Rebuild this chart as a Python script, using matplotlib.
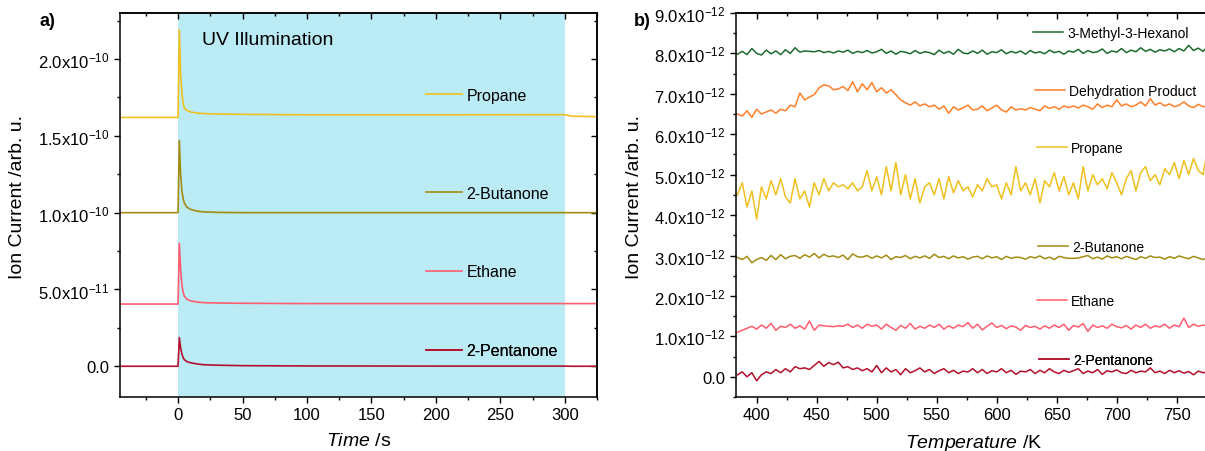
import numpy as np
from matplotlib import pyplot as plt
from matplotlib.ticker import FuncFormatter, MultipleLocator

plt.rcParams['font.family'] = ['Liberation Sans', 'DejaVu Sans']
plt.rcParams['mathtext.fontset'] = 'custom'
plt.rcParams['mathtext.rm'] = 'Liberation Sans'
plt.rcParams['mathtext.it'] = 'Liberation Sans:italic'

# ---- panel a: ion current vs time (UV on from 0 to 300 s)
time_s = [-45, 0, 1, 2, 3, 4, 5, 7, 10, 15, 20, 30, 50, 100, 200, 300, 305, 325]
propane_a = [1.62, 1.62, 2.19, 1.90, 1.78, 1.71, 1.68, 1.665, 1.655, 1.648, 1.645,
             1.642, 1.640, 1.637, 1.637, 1.638, 1.628, 1.625]
butanone_a = [1.00, 1.00, 1.47, 1.25, 1.14, 1.09, 1.06, 1.035, 1.02, 1.01, 1.005,
              1.002, 1.00, 1.00, 1.00, 1.00, 1.00, 1.00]
ethane_a = [0.405, 0.405, 0.80, 0.63, 0.53, 0.48, 0.455, 0.435, 0.425, 0.418, 0.414,
            0.412, 0.41, 0.408, 0.408, 0.408, 0.408, 0.408]
pentanone_a = [0.0, 0.0, 0.187, 0.12, 0.08, 0.055, 0.042, 0.03, 0.022, 0.015, 0.01,
               0.007, 0.004, 0.002, 0.001, 0.001, 0.0, 0.0]
scale_a = 1e-10

# ---- panel b: ion current vs temperature (values in 1e-12)
temp_k = [384, 388, 392, 396, 400, 404, 408, 412, 416, 420,
          424, 428, 432, 436, 440, 444, 448, 452, 456, 460,
          464, 468, 472, 476, 480, 484, 488, 492, 496, 500,
          504, 508, 512, 516, 520, 524, 528, 532, 536, 540,
          544, 548, 552, 556, 560, 564, 568, 572, 576, 580,
          584, 588, 592, 596, 600, 604, 608, 612, 616, 620,
          624, 628, 632, 636, 640, 644, 648, 652, 656, 660,
          664, 668, 672, 676, 680, 684, 688, 692, 696, 700,
          704, 708, 712, 716, 720, 724, 728, 732, 736, 740,
          744, 748, 752, 756, 760, 764, 768, 772, 776]

hexanol_b = [7.98, 8.05, 7.97, 8.12, 8.00, 7.96, 8.08, 7.99, 8.06, 7.97,
             8.09, 8.00, 8.14, 8.03, 8.06, 8.05, 8.04, 8.07, 8.02, 8.05,
             8.01, 8.06, 8.03, 8.08, 8.00, 8.05, 8.02, 8.07, 8.01, 8.04,
             8.10, 8.00, 8.06, 7.98, 8.05, 8.03, 7.99, 8.07, 8.00, 8.04,
             8.02, 7.97, 8.08, 8.00, 8.05, 7.98, 8.10, 8.01, 7.99, 8.06,
             8.00, 8.08, 7.98, 8.04, 8.02, 8.09, 7.99, 8.05, 8.01, 8.06,
             7.98, 8.07, 8.01, 8.04, 7.99, 8.08, 8.02, 8.05, 7.98, 8.06,
             8.03, 8.10, 8.00, 8.07, 8.02, 8.04, 8.11, 8.00, 8.06, 8.03,
             8.12, 8.02, 8.08, 8.04, 8.14, 8.05, 8.10, 8.03, 8.09, 8.06,
             8.11, 8.04, 8.12, 8.06, 8.20, 8.07, 8.13, 8.05, 8.18]
dehydration_b = [6.50, 6.45, 6.58, 6.42, 6.62, 6.50, 6.55, 6.60, 6.52, 6.62,
                 6.58, 6.72, 6.68, 7.02, 6.85, 6.92, 6.98, 7.15, 7.22, 7.20,
                 7.10, 7.12, 7.18, 7.08, 7.30, 7.05, 7.25, 7.10, 7.28, 7.05,
                 7.15, 7.02, 7.10, 6.98, 6.85, 6.78, 6.72, 6.80, 6.70, 6.75,
                 6.68, 6.72, 6.62, 6.70, 6.52, 6.68, 6.60, 6.65, 6.72, 6.60,
                 6.62, 6.70, 6.58, 6.65, 6.72, 6.60, 6.55, 6.68, 6.60, 6.63,
                 6.60, 6.66, 6.62, 6.58, 6.70, 6.64, 6.68, 6.62, 6.70, 6.66,
                 6.70, 6.65, 6.72, 6.68, 6.62, 6.75, 6.66, 6.72, 6.68, 6.85,
                 6.70, 6.75, 6.68, 6.72, 6.80, 6.70, 6.88, 6.72, 6.78, 6.70,
                 6.75, 6.68, 6.72, 6.80, 6.70, 6.66, 6.74, 6.68, 6.70]
propane_b = [4.50, 4.80, 4.20, 4.60, 3.90, 4.70, 4.40, 4.85, 4.50, 4.90,
             4.45, 4.30, 4.90, 4.40, 4.60, 4.20, 4.80, 4.50, 4.90, 4.60,
             4.80, 4.70, 4.75, 4.65, 4.80, 4.60, 4.70, 5.10, 4.60, 4.95,
             4.50, 5.20, 4.60, 5.30, 4.50, 5.00, 4.40, 4.90, 4.30, 4.70,
             4.80, 4.50, 4.90, 4.40, 4.95, 4.55, 4.85, 4.60, 4.70, 4.45,
             4.75, 4.60, 4.90, 4.70, 4.75, 4.40, 4.80, 4.50, 5.20, 4.60,
             4.80, 4.50, 4.90, 4.30, 4.85, 4.70, 5.05, 4.60, 4.95, 4.50,
             4.80, 4.40, 5.20, 4.60, 5.00, 4.75, 4.90, 4.65, 5.05, 4.80,
             4.50, 4.90, 5.10, 4.60, 5.05, 5.20, 4.85, 5.00, 4.75, 5.15,
             5.00, 5.30, 4.90, 5.35, 5.00, 5.40, 5.10, 5.00, 5.70]
butanone_b = [2.95, 2.90, 2.98, 2.82, 2.90, 2.95, 2.88, 3.00, 2.90, 3.02,
              2.92, 2.98, 3.00, 2.93, 3.02, 2.96, 3.05, 2.94, 3.03, 2.97,
              2.99, 2.95, 3.01, 2.90, 3.04, 2.97, 2.96, 3.00, 2.93, 2.99,
              2.94, 3.01, 2.90, 2.97, 2.95, 3.00, 2.92, 2.98, 2.94, 2.99,
              2.93, 3.03, 2.95, 2.98, 2.92, 2.99, 2.94, 2.97, 2.91, 2.96,
              2.98, 2.92, 2.99, 2.94, 2.97, 2.90, 2.98, 2.93, 2.96, 2.95,
              2.91, 2.97, 2.94, 2.99, 2.92, 2.96, 2.90, 2.98, 2.95, 2.93,
              2.93, 2.94, 2.97, 3.00, 2.92, 2.96, 2.91, 2.99, 2.94, 2.97,
              2.92, 2.98, 2.94, 2.90, 2.97, 2.93, 2.99, 2.95, 2.96, 2.91,
              2.97, 2.93, 2.99, 2.95, 2.92, 2.98, 2.94, 2.90, 2.95]
ethane_b = [1.10, 1.15, 1.20, 1.25, 1.18, 1.28, 1.20, 1.32, 1.15, 1.25,
            1.22, 1.30, 1.20, 1.26, 1.18, 1.38, 1.15, 1.28, 1.26, 1.25,
            1.24, 1.26, 1.25, 1.30, 1.22, 1.28, 1.20, 1.30, 1.25, 1.28,
            1.18, 1.30, 1.22, 1.15, 1.27, 1.20, 1.32, 1.18, 1.25, 1.20,
            1.28, 1.22, 1.30, 1.18, 1.26, 1.20, 1.28, 1.24, 1.34, 1.20,
            1.30, 1.16, 1.25, 1.33, 1.22, 1.27, 1.19, 1.26, 1.23, 1.15,
            1.27, 1.22, 1.25, 1.18, 1.26, 1.20, 1.28, 1.22, 1.30, 1.15,
            1.27, 1.23, 1.32, 1.12, 1.28, 1.22, 1.26, 1.20, 1.30, 1.24,
            1.21, 1.27, 1.18, 1.28, 1.22, 1.30, 1.20, 1.26, 1.23, 1.30,
            1.20, 1.28, 1.24, 1.45, 1.22, 1.30, 1.25, 1.28, 1.25]
pentanone_b = [0.05, 0.12, 0.00, 0.10, -0.10, 0.05, 0.12, 0.08, 0.18, 0.10,
               0.20, 0.12, 0.25, 0.20, 0.22, 0.18, 0.28, 0.38, 0.26, 0.35,
               0.30, 0.36, 0.22, 0.25, 0.18, 0.22, 0.15, 0.20, 0.12, 0.28,
               0.10, 0.22, 0.12, 0.18, 0.05, 0.20, 0.10, 0.15, 0.22, 0.12,
               0.18, 0.08, 0.15, 0.20, 0.10, 0.16, 0.08, 0.14, 0.12, 0.20,
               0.10, 0.18, 0.08, 0.15, 0.12, 0.20, 0.10, 0.16, 0.06, 0.14,
               0.12, 0.18, 0.08, 0.16, 0.10, 0.20, 0.12, 0.08, 0.16, 0.11,
               0.15, 0.20, 0.08, 0.14, 0.10, 0.18, 0.06, 0.15, 0.12, 0.17,
               0.10, 0.08, 0.16, 0.10, 0.14, 0.12, 0.22, 0.10, 0.14, 0.08,
               0.16, 0.10, 0.15, 0.09, 0.13, 0.05, 0.14, 0.10, 0.12]
scale_b = 1e-12

c_propane = '#EFC01E'
c_butanone = '#A38B12'
c_ethane = '#FF5C70'
c_pentanone = '#B4102C'
c_hexanol = '#1D6B2F'
c_dehyd = '#FF7F2A'
uv_color = '#BBEBF5'


def sci_label(v, pos):
    if abs(v) < 1e-20:
        return '0.0'
    e = int(np.floor(np.log10(abs(v)) + 1e-9))
    m = v / 10 ** e
    return f'{m:.1f}x10$^{{{e}}}$'


def style_axes(ax, xmajor, xminor, ymajor, yminor):
    for s in ax.spines.values():
        s.set_linewidth(1.1)
    ax.xaxis.set_major_locator(MultipleLocator(xmajor))
    ax.xaxis.set_minor_locator(MultipleLocator(xminor))
    ax.yaxis.set_major_locator(MultipleLocator(ymajor))
    ax.yaxis.set_minor_locator(MultipleLocator(yminor))
    ax.yaxis.set_major_formatter(FuncFormatter(sci_label))
    ax.tick_params(which='major', direction='out', length=4.5, width=1.0,
                   labelsize=12, pad=3)
    ax.tick_params(which='minor', direction='out', length=2.5, width=1.0)
    # inward ticks on top and right
    top = ax.secondary_xaxis('top')
    top.xaxis.set_major_locator(MultipleLocator(xmajor))
    top.xaxis.set_minor_locator(MultipleLocator(xminor))
    top.tick_params(which='major', direction='in', length=4.5, width=1.0, labeltop=False)
    top.tick_params(which='minor', direction='in', length=2.5, width=1.0)
    top.spines['top'].set_linewidth(1.1)
    right = ax.secondary_yaxis('right')
    right.yaxis.set_major_locator(MultipleLocator(ymajor))
    right.yaxis.set_minor_locator(MultipleLocator(yminor))
    right.tick_params(which='major', direction='in', length=4.5, width=1.0, labelright=False)
    right.tick_params(which='minor', direction='in', length=2.5, width=1.0)
    right.spines['right'].set_linewidth(1.1)


def tag(ax, line, label, x, y, fs, hl):
    leg = ax.legend(handles=[line], labels=[label], loc='center left',
                    bbox_to_anchor=(x, y), frameon=False, fontsize=fs,
                    handlelength=hl, handletextpad=0.3, borderpad=0,
                    borderaxespad=0)
    ax.add_artist(leg)


fig = plt.figure(figsize=(12.05, 4.52), dpi=100)
ax_a = fig.add_axes([0.0996, 0.1195, 0.3959, 0.8496])
ax_b = fig.add_axes([0.6105, 0.1195, 0.3953, 0.8496])

# panel a
ax_a.axvspan(0, 300, color=uv_color, lw=0, zorder=0)
t = np.array(time_s)
l1, = ax_a.plot(t, np.array(propane_a) * scale_a, color=c_propane, lw=1.2)
l2, = ax_a.plot(t, np.array(butanone_a) * scale_a, color=c_butanone, lw=1.2)
l3, = ax_a.plot(t, np.array(ethane_a) * scale_a, color=c_ethane, lw=1.2)
l4, = ax_a.plot(t, np.array(pentanone_a) * scale_a, color=c_pentanone, lw=1.2)
ax_a.set_xlim(-45, 325)
ax_a.set_ylim(-2e-11, 2.3e-10)
style_axes(ax_a, 50, 25, 5e-11, 2.5e-11)
ax_a.set_xlabel(r'$\it{Time}$ /s', fontsize=14)
ax_a.set_ylabel('Ion Current /arb. u.', fontsize=14)
ax_a.xaxis.set_label_coords(0.5, -0.09)
ax_a.yaxis.set_label_coords(-0.197, 0.523)
ax_a.text(0.171, 0.93, 'UV Illumination', transform=ax_a.transAxes,
          fontsize=14, va='center', ha='left')
tag(ax_a, l1, 'Propane', 0.641, 0.786, 11.5, 2.25)
tag(ax_a, l2, '2-Butanone', 0.641, 0.531, 11.5, 2.25)
tag(ax_a, l3, 'Ethane', 0.641, 0.326, 11.5, 2.25)
tag(ax_a, l4, '2-Pentanone', 0.641, 0.120, 11.5, 2.25)

# panel b
T = np.array(temp_k)
m1, = ax_b.plot(T, np.array(hexanol_b) * scale_b, color=c_hexanol, lw=1.1)
m2, = ax_b.plot(T, np.array(dehydration_b) * scale_b, color=c_dehyd, lw=1.1)
m3, = ax_b.plot(T, np.array(propane_b) * scale_b, color=c_propane, lw=1.1)
m4, = ax_b.plot(T, np.array(butanone_b) * scale_b, color=c_butanone, lw=1.1)
m5, = ax_b.plot(T, np.array(ethane_b) * scale_b, color=c_ethane, lw=1.1)
m6, = ax_b.plot(T, np.array(pentanone_b) * scale_b, color=c_pentanone, lw=1.1)
ax_b.set_xlim(382.5, 779.4)
ax_b.set_ylim(-0.5e-12, 9e-12)
style_axes(ax_b, 50, 25, 1e-12, 0.5e-12)
ax_b.set_xlabel(r'$\it{Temperature}$ /K', fontsize=14)
ax_b.set_ylabel('Ion Current /arb. u.', fontsize=14)
ax_b.xaxis.set_label_coords(0.5, -0.09)
ax_b.yaxis.set_label_coords(-0.195, 0.523)
tag(ax_b, m1, '3-Methyl-3-Hexanol', 0.624, 0.947, 10, 2.16)
tag(ax_b, m2, 'Dehydration Product', 0.628, 0.797, 10, 2.16)
tag(ax_b, m3, 'Propane', 0.633, 0.648, 10, 2.16)
tag(ax_b, m4, '2-Butanone', 0.635, 0.391, 10, 2.16)
tag(ax_b, m5, 'Ethane', 0.633, 0.250, 10, 2.16)
tag(ax_b, m6, '2-Pentanone', 0.637, 0.096, 10, 2.16)

fig.text(47 / 1205, 1 - 21 / 452, 'a)', fontsize=13, fontweight='bold',
         ha='center', va='center')
fig.text(642 / 1205, 1 - 21 / 452, 'b)', fontsize=13, fontweight='bold',
         ha='center', va='center')

fig.savefig('out.png', dpi=100)
